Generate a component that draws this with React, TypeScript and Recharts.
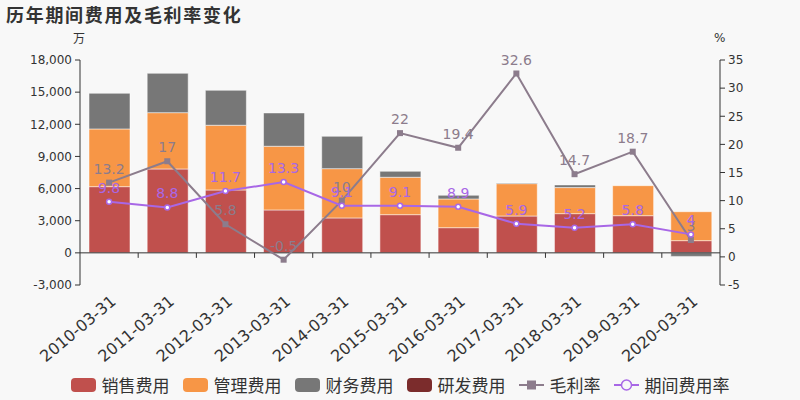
import React from 'react';
import { ComposedChart, Bar, Line, XAxis, YAxis, ReferenceLine, LabelList } from 'recharts';

const categories = ['2010-03-31', '2011-03-31', '2012-03-31', '2013-03-31', '2014-03-31', '2015-03-31', '2016-03-31', '2017-03-31', '2018-03-31', '2019-03-31', '2020-03-31'];
const salesExpense = [6180, 7830, 5870, 4005, 3260, 3565, 2350, 3440, 3660, 3470, 1140];
const adminExpense = [5385, 5255, 6040, 5945, 4600, 3490, 2680, 3020, 2430, 2800, 2700];
const financeExpense = [3330, 3675, 3265, 3108, 3020, 560, 345, 65, 250, 0, -330];
const rdExpense = [0, 0, 0, 0, 0, 0, 0, 0, 0, 0, 0];
const grossMargin = [13.2, 17, 5.8, -0.5, 10, 22, 19.4, 32.6, 14.7, 18.7, 3];
const expenseRate = [9.8, 8.8, 11.7, 13.3, 9.1, 9.1, 8.9, 5.9, 5.2, 5.8, 4];
const leftTicks = [-3000, 0, 3000, 6000, 9000, 12000, 15000, 18000];
const rightTicks = [-5, 0, 5, 10, 15, 20, 25, 30, 35];

const C_SALES = '#c0504d';
const C_ADMIN = '#f79646';
const C_FIN = '#777777';
const C_RD = '#7b2c2c';
const C_GROSS = '#8c7c8c';
const C_RATE = '#a867e6';

const data = categories.map((name, i) => ({
  name,
  sales: salesExpense[i],
  admin: adminExpense[i],
  fin: financeExpense[i],
  rd: rdExpense[i],
  gross: grossMargin[i],
  rate: expenseRate[i],
}));

const FONT = '"DejaVu Sans", "Noto Sans CJK SC", sans-serif';

const XTick = (props: any) => {
  const { x, y, payload } = props;
  const ax = x + 8;
  const ay = y + 18;
  return (
    <text x={ax} y={ay} transform={`rotate(-40, ${ax}, ${ay})`} textAnchor="end" fontSize={16} fill="#333" fontFamily={FONT}>
      {payload.value}
    </text>
  );
};

const SquareDot = (p: any) => {
  if (p.cx == null || p.cy == null) return null;
  return <rect key={`sq-${p.index}`} x={p.cx - 3} y={p.cy - 3} width={6} height={6} fill={C_GROSS} />;
};

const CircleDot = (p: any) => {
  if (p.cx == null || p.cy == null) return null;
  return <circle key={`ci-${p.index}`} cx={p.cx} cy={p.cy} r={2.5} fill="#fff" stroke={C_RATE} strokeWidth={1.5} />;
};

const fmt = (v: number) => v.toLocaleString('en-US');

const legendItems = [
  { label: '销售费用', type: 'bar', color: C_SALES },
  { label: '管理费用', type: 'bar', color: C_ADMIN },
  { label: '财务费用', type: 'bar', color: C_FIN },
  { label: '研发费用', type: 'bar', color: C_RD },
  { label: '毛利率', type: 'square', color: C_GROSS },
  { label: '期间费用率', type: 'circle', color: C_RATE },
];

const LegendIcon = ({ type, color }: { type: string; color: string }) => (
  <svg width={25} height={14} style={{ display: 'block' }}>
    {type === 'bar' && <rect x={0} y={0} width={25} height={14} rx={4} ry={4} fill={color} />}
    {type === 'square' && (
      <g>
        <line x1={0} y1={7} x2={25} y2={7} stroke={color} strokeWidth={2} />
        <rect x={8} y={2.5} width={9} height={9} fill={color} />
      </g>
    )}
    {type === 'circle' && (
      <g>
        <line x1={0} y1={7} x2={25} y2={7} stroke={color} strokeWidth={2} />
        <circle cx={12.5} cy={7} r={5} fill="#f8f8f8" stroke={color} strokeWidth={1.5} />
      </g>
    )}
  </svg>
);

export default function App() {
  return (
    <div style={{ position: 'absolute', left: 0, top: 0, width: 800, height: 400, background: '#f8f8f8', overflow: 'hidden' }}>
      <div style={{ position: 'absolute', left: 6, top: 2, fontSize: 18, fontWeight: 'bold', letterSpacing: 1.7, color: '#333', fontFamily: '"Noto Sans CJK SC", sans-serif', lineHeight: '24px' }}>
        历年期间费用及毛利率变化
      </div>
      <div style={{ position: 'absolute', left: 73, top: 30, fontSize: 12, color: '#333', fontFamily: '"Noto Sans CJK SC", sans-serif', lineHeight: '16px' }}>万</div>
      <div style={{ position: 'absolute', left: 714, top: 30, fontSize: 12, color: '#333', fontFamily: FONT, lineHeight: '16px' }}>%</div>
      <ComposedChart
        width={800}
        height={400}
        data={data}
        margin={{ top: 60, right: 0, bottom: 0, left: 0 }}
        stackOffset="sign"
        barSize={41}
      >
        <XAxis dataKey="name" height={115} axisLine={false} tickLine={false} tickSize={0} tickMargin={0} interval={0} tick={<XTick />} />
        <YAxis
          yAxisId="left"
          orientation="left"
          width={80}
          domain={[-3000, 18000]}
          ticks={leftTicks}
          interval={0}
          tickFormatter={fmt}
          axisLine={{ stroke: '#333' }}
          tickLine={{ stroke: '#333' }}
          tickSize={5}
          tickMargin={3}
          tick={{ fontSize: 12, fill: '#333', fontFamily: FONT }}
        />
        <YAxis
          yAxisId="right"
          orientation="right"
          width={80}
          domain={[-5, 35]}
          ticks={rightTicks}
          interval={0}
          axisLine={{ stroke: '#333' }}
          tickLine={{ stroke: '#333' }}
          tickSize={5}
          tickMargin={3}
          tick={{ fontSize: 12, fill: '#333', fontFamily: FONT }}
        />
        <Bar yAxisId="left" dataKey="sales" stackId="a" fill={C_SALES} stroke="#ffffff" strokeOpacity={0.5} isAnimationActive={false} />
        <Bar yAxisId="left" dataKey="admin" stackId="a" fill={C_ADMIN} stroke="#ffffff" strokeOpacity={0.5} isAnimationActive={false} />
        <Bar yAxisId="left" dataKey="fin" stackId="a" fill={C_FIN} stroke="#ffffff" strokeOpacity={0.5} isAnimationActive={false} />
        <Bar yAxisId="left" dataKey="rd" stackId="a" fill={C_RD} stroke="#ffffff" strokeOpacity={0.5} isAnimationActive={false} />
        <ReferenceLine yAxisId="left" y={0} stroke="#333" strokeWidth={1} />
        {categories.slice(1).map((c) => (
          <ReferenceLine
            key={`tk-${c}`}
            yAxisId="left"
            position="start"
            segment={[{ x: c, y: 0 }, { x: c, y: -467 }]}
            stroke="#333"
            strokeWidth={1}
          />
        ))}
        <Line yAxisId="right" dataKey="gross" stroke={C_GROSS} strokeWidth={2} dot={<SquareDot />} activeDot={false} isAnimationActive={false}>
          <LabelList dataKey="gross" position="top" offset={9} fill={C_GROSS} fontSize={14} fontFamily={FONT} />
        </Line>
        <Line yAxisId="right" dataKey="rate" stroke={C_RATE} strokeWidth={2} dot={<CircleDot />} activeDot={false} isAnimationActive={false}>
          <LabelList dataKey="rate" position="top" offset={9} fill={C_RATE} fontSize={14} fontFamily={FONT} />
        </Line>
      </ComposedChart>
      <div style={{ position: 'absolute', left: 0, top: 376, width: 800, display: 'flex', justifyContent: 'center', alignItems: 'center', gap: 13, fontFamily: '"Noto Sans CJK SC", sans-serif', fontSize: 17, color: '#333', lineHeight: '18px' }}>
        {legendItems.map((it) => (
          <div key={it.label} style={{ display: 'flex', alignItems: 'center', gap: 6 }}>
            <LegendIcon type={it.type} color={it.color} />
            <span>{it.label}</span>
          </div>
        ))}
      </div>
    </div>
  );
}
